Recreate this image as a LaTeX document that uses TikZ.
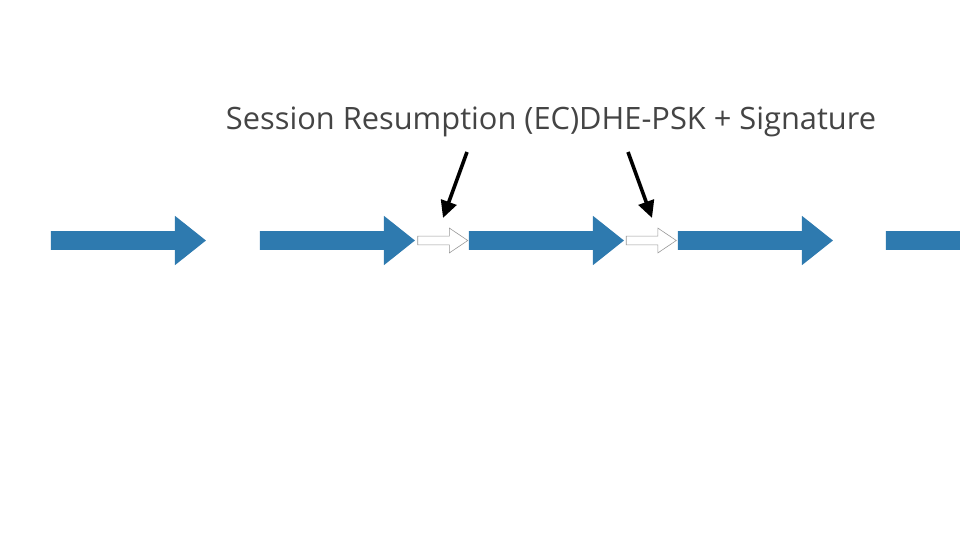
\documentclass[tikz,border=0pt]{standalone}
\usepackage{fontspec}
\setmainfont{Open Sans}
\usepackage{tikz}
\usetikzlibrary{arrows.meta,shapes.arrows,positioning}
\usepackage{xcolor}
\definecolor{Flow}{RGB}{46,122,175}
\definecolor{Slate}{RGB}{68,68,68}

\begin{document}
\begin{tikzpicture}[x=1pt,y=-1pt,
  stage/.style={single arrow, fill=Flow, draw=none, inner xsep=0pt, inner ysep=9.25pt, outer sep=0pt,
    minimum height=155pt, single arrow head extend=15.25pt, single arrow tip angle=77},
  hop/.style={single arrow, fill=white, draw=gray!80, line width=0.6pt, inner xsep=0pt, inner ysep=4.1pt, outer sep=0pt,
    minimum height=50pt, single arrow head extend=8pt, single arrow tip angle=68},
  pointer/.style={-{Triangle[length=17pt,width=16pt]}, line width=3.6pt, black}]
\clip (0,0) rectangle (960,540);
\useasboundingbox (0,0) rectangle (960,540);
%
\node[stage] (s1) at (122.5,240.5) {};
\node[stage] (s2) at (331.5,240.5) {};
\node[hop]   (h1) at (439.5,240.5) {};
\node[stage] (s3) at (540.5,240.5) {};
\node[hop]   (h2) at (648,240.5) {};
\node[stage] (s4) at (749.5,240.5) {};
\node[stage] (s5) at (957.5,240.5) {};
%
\node[anchor=base, text=Slate, font=\fontsize{30.8}{37}\selectfont] (label) at (551,130)
  {Session Resumption (EC)DHE-PSK + Signature};
%
\coordinate (p1) at (467,152);
\coordinate (t1) at (443,218);
\coordinate (p2) at (628,152);
\coordinate (t2) at (652,218);
\draw[pointer] (p1) -- (t1);
\draw[pointer] (p2) -- (t2);
%
\end{tikzpicture}
\end{document}
